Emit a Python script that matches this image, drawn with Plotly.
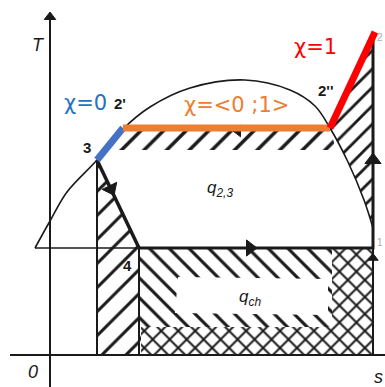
import plotly.graph_objects as go

# --- T-s diagram of a vapour-compression cycle (arbitrary units) ---
# cycle state points: (entropy s, temperature T)
state_names = ["1", "2", "2''", "2'", "3", "4"]
state_s = [3.23, 3.24, 2.80, 0.73, 0.47, 0.89]
state_T = [1.07, 3.23, 2.27, 2.27, 1.95, 1.07]

# saturation dome (left boiling line -> critical region -> right dew line)
dome_s = [-0.15, 0.00, 0.17, 0.47, 0.73, 1.00, 1.40, 1.95, 2.40, 2.65, 2.80, 2.98, 3.14, 3.23]
dome_T = [1.07, 1.34, 1.63, 1.95, 2.26, 2.48, 2.67, 2.75, 2.65, 2.49, 2.27, 1.93, 1.55, 1.27]

P = dict(zip(state_names, zip(state_s, state_T)))
s1, T1 = P["1"]
s2, T2 = P["2"]
s2pp, T2pp = P["2''"]
s2p, T2p = P["2'"]
s3, T3 = P["3"]
s4, T4 = P["4"]

INK = "#1a1a1a"
BLUE, ORANGE, RED = "#4472C4", "#ED7D31", "#FF0000"

fig = go.Figure()


def hatch(xs, ys, shape, size=15, solidity=0.22, bg="white"):
    fig.add_trace(go.Scatter(
        x=xs, y=ys, mode="lines", fill="toself", line=dict(width=0),
        fillcolor=bg,
        fillpattern=dict(shape=shape, size=size, solidity=solidity,
                         fgcolor=INK, bgcolor=bg, fillmode="replace"),
        hoverinfo="skip", showlegend=False))


# heat rejected q2,3 : band under condensation line
hatch([s2p, s2pp, s2pp + 0.06, s3 + 0.10], [T2p, T2pp, 2.05, 2.05], "/", size=16)
# region between superheated vapour / dew line and the compression line
right_s = [s2, s2pp] + [v for v in dome_s if v > s2pp] + [s1]
right_T = [T2, T2pp] + [t for s, t in zip(dome_s, dome_T) if s > s2pp] + [T2]
hatch(right_s, right_T, "/", size=13)
# strip under subcooling + throttling
hatch([s3, s4, s4, s3], [T3, T4, 0, 0], "/", size=17, solidity=0.18)
# evaporator heat q_ch
hatch([s4, s1, s1, s4], [0, 0, T4, T4], "\\", size=14)
hatch([s4 + 0.02, s1, s1, s4 + 0.02], [0, 0, 0.28, 0.28], "x", size=12, solidity=0.3)
hatch([2.82, s1, s1, 2.82], [0, 0, T4, T4], "x", size=12, solidity=0.3)
# clear interior around the q_ch label
fig.add_trace(go.Scatter(
    x=[1.28, 2.78, 2.78, 1.25, 1.28], y=[0.78, 0.76, 0.40, 0.42, 0.78],
    mode="lines", fill="toself", fillcolor="white", line=dict(width=0),
    hoverinfo="skip", showlegend=False))

# saturation dome
fig.add_trace(go.Scatter(x=dome_s, y=dome_T, mode="lines", line_shape="spline",
                         line=dict(color=INK, width=1.6), hoverinfo="skip", showlegend=False))
# liquid line at evaporation temperature, from the dome to point 4
fig.add_trace(go.Scatter(x=[dome_s[0], s4], y=[T4, T4], mode="lines",
                         line=dict(color=INK, width=1.6), showlegend=False))
# strip borders down to the s axis
fig.add_trace(go.Scatter(x=[s3, s3, None, s4, s4], y=[T3, 0, None, T4, 0], mode="lines",
                         line=dict(color=INK, width=2), showlegend=False))
# evaporation 4-1, compression 1-2
fig.add_trace(go.Scatter(x=[s4, s1, s1], y=[T4, T4, T2], mode="lines",
                         line=dict(color=INK, width=3), showlegend=False))
fig.add_trace(go.Scatter(x=[s1, s1], y=[0, T4], mode="lines",
                         line=dict(color=INK, width=2), showlegend=False))
# throttling 3-4
fig.add_trace(go.Scatter(x=[s3, s4], y=[T3, T4], mode="lines",
                         line=dict(color=INK, width=3.5), showlegend=False))

# flow-direction arrowheads
fig.add_trace(go.Scatter(
    x=[2.00, s1, s1, 0.61, 1.88],
    y=[T4, 1.95, 0.97, 1.66, T2p - 0.03],
    mode="markers", hoverinfo="skip", showlegend=False, opacity=1,
    marker=dict(symbol="triangle-up", color=INK, size=[14, 14, 9, 14, 10], opacity=1,
                angle=[90, 0, 0, 154, 270], line=dict(width=1, color=INK))))

# coloured vapour-quality segments
fig.add_trace(go.Scatter(x=[s3, s2p], y=[T3, T2p], mode="lines",
                         line=dict(color=BLUE, width=7), showlegend=False))
fig.add_trace(go.Scatter(x=[s2p, s2pp], y=[T2p, T2pp], mode="lines",
                         line=dict(color=ORANGE, width=7), showlegend=False))
fig.add_trace(go.Scatter(x=[s2pp, s2 + 0.01], y=[T2pp, T2], mode="lines",
                         line=dict(color=RED, width=7), showlegend=False))

# axes
fig.add_trace(go.Scatter(x=[0, 0, None, -0.40, 3.40], y=[-0.35, 3.35, None, 0, 0], mode="lines",
                         line=dict(color=INK, width=2), showlegend=False))
fig.add_trace(go.Scatter(x=[0], y=[3.38], mode="markers", showlegend=False,
                         marker=dict(symbol="triangle-up", color=INK, size=10,
                                     line=dict(width=1, color=INK))))

ann = []


def label(x, y, text, size=15, color=INK, family="Liberation Sans", italic=False, bold=False,
          xanchor="center"):
    if italic:
        text = f"<i>{text}</i>"
    if bold:
        text = f"<b>{text}</b>"
    ann.append(dict(x=x, y=y, text=text, showarrow=False, xanchor=xanchor, yanchor="middle",
                    font=dict(size=size, color=color, family=family)))


label(-0.12, 3.10, "T", size=18, italic=True)
label(-0.17, -0.17, "0", size=18, italic=True)
label(3.28, -0.22, "s", size=18, italic=True)
label(0.70, 2.52, "2'", size=15, bold=True)
label(2.75, 2.65, "2''", size=15, bold=True)
label(0.37, 2.08, "3", size=15, bold=True)
label(0.77, 0.90, "4", size=15, bold=True)
label(3.35, 3.18, "2", size=10, color="#aaaaaa", xanchor="right")
label(3.35, 1.13, "1", size=10, color="#aaaaaa", xanchor="right")
label(1.70, 1.66, "q<sub>2,3</sub>", size=17, italic=True)
label(2.00, 0.57, "q<sub>ch</sub>", size=17, italic=True)
label(0.35, 2.52, "χ=0", size=21, color="#2272C3", family="DejaVu Sans")
label(1.86, 2.50, "χ=&lt;0 ;1&gt;", size=21, color=ORANGE, family="DejaVu Sans")
label(2.65, 3.08, "χ=1", size=21, color=RED, family="DejaVu Sans")

fig.update_layout(
    width=385, height=387, autosize=False,
    margin=dict(l=0, r=0, t=0, b=0),
    paper_bgcolor="white", plot_bgcolor="white",
    showlegend=False, annotations=ann,
    xaxis=dict(range=[-0.50, 3.35], visible=False, fixedrange=True),
    yaxis=dict(range=[-0.32, 3.55], visible=False, fixedrange=True),
)

fig.write_html("out.html")
